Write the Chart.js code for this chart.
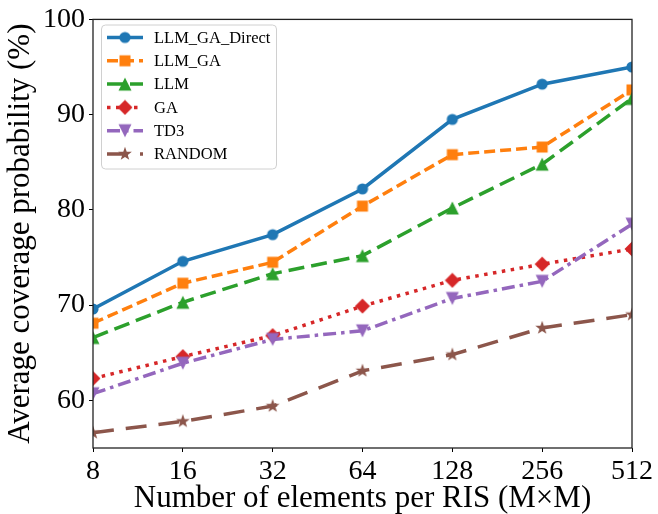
<!DOCTYPE html>
<html>
<head>
<meta charset="utf-8">
<script src="https://cdn.jsdelivr.net/npm/chart.js@4.4.1/dist/chart.umd.min.js"></script>
<style>
  body { margin: 0; background: #fff; }
  #wrap { width: 658px; height: 514px; }
</style>
</head>
<body>
<div id="wrap"><canvas id="myChart" width="658" height="514"></canvas></div>
<script>
// données
const xLabels = ['8', '16', '32', '64', '128', '256', '512'];
const yTicks = [60, 70, 80, 90, 100];
const seriesNames = ['LLM_GA_Direct', 'LLM_GA', 'LLM', 'GA', 'TD3', 'RANDOM'];
const llmGaDirect = [69.6, 74.6, 77.4, 82.2, 89.5, 93.2, 95.0];
const llmGa = [68.1, 72.3, 74.5, 80.4, 85.8, 86.6, 92.6];
const llm = [66.6, 70.3, 73.3, 75.2, 80.2, 84.8, 91.7];
const ga = [62.3, 64.6, 66.8, 69.9, 72.6, 74.3, 75.9];
const td3 = [60.7, 63.9, 66.4, 67.3, 70.7, 72.5, 78.5];
const random = [56.6, 57.8, 59.4, 63.1, 64.8, 67.6, 69.0];

const seriesData = [llmGaDirect, llmGa, llm, ga, td3, random];
const colors = ['#1f77b4', '#ff7f0e', '#2ca02c', '#d62728', '#9467bd', '#8c564b'];
const dashes = [[], [11, 5], [16, 7], [3.5, 5.5], [13, 5, 3.5, 5], [21, 12]];
const shapes = ['circle', 'square', 'triangle', 'diamond', 'triangleDown', 'star'];

const serif = '"Liberation Serif", "Times New Roman", serif';

// petits canvas pour les marqueurs (style matplotlib)
function makeMarker(shape, color) {
    const c = document.createElement('canvas');
    const s = 16;
    c.width = s; c.height = s;
    const ctx = c.getContext('2d');
    const m = s / 2;
    ctx.fillStyle = color;
    ctx.beginPath();
    if (shape === 'circle') {
        ctx.arc(m, m, 5.6, 0, Math.PI * 2);
    } else if (shape === 'square') {
        ctx.rect(m - 5.5, m - 5.5, 11, 11);
    } else if (shape === 'triangle') {
        ctx.moveTo(m, m - 6.5);
        ctx.lineTo(m + 6.5, m + 6.5);
        ctx.lineTo(m - 6.5, m + 6.5);
    } else if (shape === 'triangleDown') {
        ctx.moveTo(m, m + 6.5);
        ctx.lineTo(m + 6.5, m - 6.5);
        ctx.lineTo(m - 6.5, m - 6.5);
    } else if (shape === 'diamond') {
        ctx.moveTo(m, m - 7.5);
        ctx.lineTo(m + 7.5, m);
        ctx.lineTo(m, m + 7.5);
        ctx.lineTo(m - 7.5, m);
    } else if (shape === 'star') {
        for (let k = 0; k < 10; k++) {
            const r = k % 2 === 0 ? 7.2 : 2.9;
            const a = -Math.PI / 2 + k * Math.PI / 5;
            const px = m + r * Math.cos(a), py = m + r * Math.sin(a);
            if (k === 0) ctx.moveTo(px, py); else ctx.lineTo(px, py);
        }
    }
    ctx.closePath();
    ctx.fill();
    return c;
}

const markers = shapes.map((s, i) => makeMarker(s, colors[i]));

const datasets = seriesNames.map((name, i) => ({
    label: name,
    data: seriesData[i],
    borderColor: colors[i],
    backgroundColor: colors[i],
    borderWidth: 3.5,
    borderDash: dashes[i],
    pointStyle: markers[i],
    pointRadius: 7,
    pointHoverRadius: 7,
    tension: 0,
    fill: false,
    clip: 0,
    order: seriesNames.length - i
}));

// cadre + légende dessinés à la main
const framePlugin = {
    id: 'frameLegend',
    afterDatasetsDraw(chart) {
        const ctx = chart.ctx;
        const a = chart.chartArea;
        ctx.save();
        ctx.strokeStyle = '#222';
        ctx.lineWidth = 1.3;
        ctx.strokeRect(a.left, a.top, a.right - a.left, a.bottom - a.top);

        // légende
        const bx = 101.5, by = 25, bw = 175, bh = 144;
        ctx.beginPath();
        ctx.roundRect(bx, by, bw, bh, 4);
        ctx.fillStyle = 'rgba(255,255,255,0.85)';
        ctx.fill();
        ctx.strokeStyle = '#d0d0d0';
        ctx.lineWidth = 1;
        ctx.stroke();

        ctx.font = '16.5px ' + serif;
        ctx.textBaseline = 'middle';
        for (let i = 0; i < seriesNames.length; i++) {
            const ry = 37.5 + i * 23.3;
            ctx.beginPath();
            ctx.setLineDash(dashes[i]);
            ctx.strokeStyle = colors[i];
            ctx.lineWidth = 3.5;
            ctx.moveTo(107, ry);
            ctx.lineTo(143, ry);
            ctx.stroke();
            ctx.setLineDash([]);
            ctx.drawImage(markers[i], 125 - markers[i].width / 2, ry - markers[i].height / 2);
            ctx.fillStyle = '#000';
            ctx.fillText(seriesNames[i], 154, ry + 1);
        }
        ctx.restore();
    }
};

const graph = document.getElementById('myChart');

new Chart(graph, {
    type: 'line',
    data: {
        labels: xLabels,
        datasets: datasets
    },
    options: {
        responsive: false,
        animation: false,
        devicePixelRatio: 1,
        layout: { padding: { left: 0, right: 26, top: 16, bottom: 0 } },
        plugins: {
            legend: { display: false },
            tooltip: { enabled: false }
        },
        scales: {
            x: {
                type: 'category',
                offset: false,
                border: { display: false },
                grid: { display: true, drawOnChartArea: false, drawTicks: true, tickLength: 4, color: '#000', lineWidth: 1 },
                ticks: { color: '#000', font: { family: serif, size: 28, lineHeight: 1.1 }, padding: 4, maxRotation: 0, autoSkip: false },
                title: {
                    display: true,
                    text: 'Number of elements per RIS (M×M)',
                    color: '#000',
                    font: { family: serif, size: 31, lineHeight: 1.0 },
                    padding: { top: 0, bottom: 0 }
                },
                afterFit: (s) => { s.height = 66; }
            },
            y: {
                min: 55,
                max: 100,
                border: { display: false },
                grid: { display: true, drawOnChartArea: false, drawTicks: true, tickLength: 4, color: '#000', lineWidth: 1 },
                afterBuildTicks: (s) => { s.ticks = yTicks.map(v => ({ value: v })); },
                ticks: { color: '#000', font: { family: serif, size: 28, lineHeight: 1.1 }, padding: 4 },
                title: {
                    display: true,
                    text: 'Average coverage probability (%)',
                    color: '#000',
                    font: { family: serif, size: 31, lineHeight: 1.1 },
                    padding: { top: 4, bottom: 0 }
                },
                afterFit: (s) => { s.width = 93; }
            }
        }
    },
    plugins: [framePlugin]
});
</script>
</body>
</html>
